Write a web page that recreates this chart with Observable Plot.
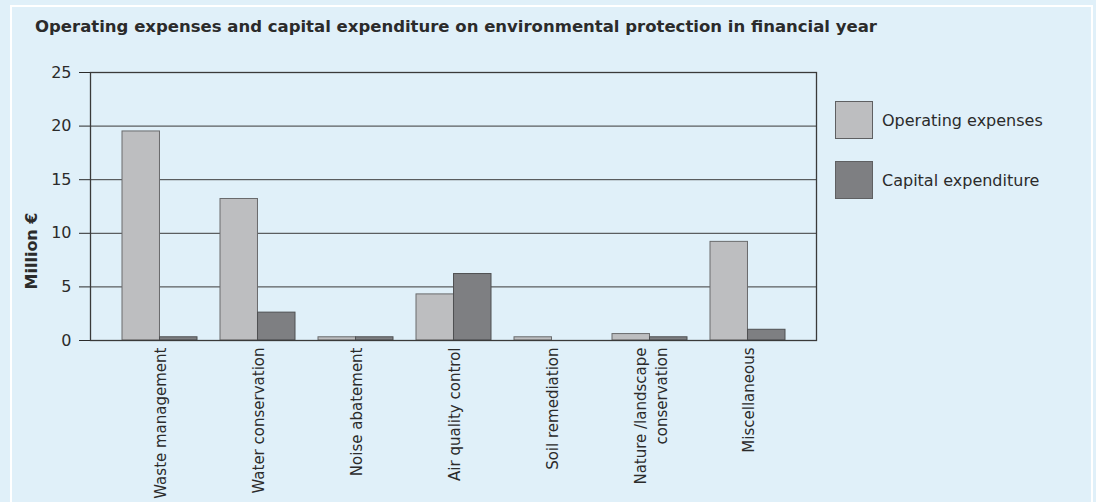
<!DOCTYPE html>
<html>
<head>
<meta charset="utf-8">
<script src="https://cdn.jsdelivr.net/npm/d3@7"></script>
<script src="https://cdn.jsdelivr.net/npm/@observablehq/plot@0.6"></script>
<style>
  html, body { margin: 0; padding: 0; }
  body { width: 1096px; height: 502px; background: #e0f0f9; position: relative; overflow: hidden; font-family: "DejaVu Sans", sans-serif; color: #2b2b2b; }
  #frame { position: absolute; left: 10px; top: 5px; width: 1079px; height: 600px; border: 2px solid #ffffff; }
  #title { position: absolute; left: 35px; top: 17px; font-size: 16.5px; font-weight: 700; white-space: nowrap; }
  #chart { position: absolute; left: 0; top: 0; }
  #ylabel { position: absolute; left: 31px; top: 251px; transform: translate(-50%, -50%) rotate(-90deg); font-size: 16px; font-weight: 700; white-space: nowrap; }
  .lg { position: absolute; left: 835px; display: flex; align-items: center; font-size: 16px; white-space: nowrap; }
  .sw { width: 36px; height: 36px; border: 1px solid #5f6062; margin-right: 9px; }
</style>
</head>
<body>
<div id="frame"></div>
<div id="title"></div>
<div id="chart"></div>
<div id="ylabel"></div>
<div id="legend"></div>
<script>
const titleText = "Operating expenses and capital expenditure on environmental protection in financial year";
const yLabel = "Million €";
const categories = ["Waste management", "Water conservation", "Noise abatement", "Air quality control", "Soil remediation", "Nature /landscape\nconservation", "Miscellaneous"];
const operating = [19.5, 13.2, 0.3, 4.3, 0.3, 0.6, 9.2];
const capital = [0.3, 2.6, 0.3, 6.2, 0, 0.3, 1.0];
const yTicks = [0, 5, 10, 15, 20, 25];
const seriesNames = ["Operating expenses", "Capital expenditure"];
const seriesColors = ["#bdbec0", "#7e7f82"];

document.getElementById("title").textContent = titleText;
document.getElementById("ylabel").textContent = yLabel;

const rows = categories.map((c, i) => ({category: c, operating: operating[i], capital: capital[i]}));

const W = 1096, H = 502;
const mL = 90, mR = 280, mT = 72, mB = 162;
const pIn = 0.237, pOut = 0.31;
const step = (W - mL - mR) / (categories.length - pIn + 2 * pOut);
const bw = step * (1 - pIn);
const half = bw / 2;

const chart = Plot.plot({
  width: W, height: H,
  marginLeft: mL, marginRight: mR, marginTop: mT, marginBottom: mB,
  style: {background: "transparent", fontSize: "16px", fontFamily: "DejaVu Sans, sans-serif", color: "#2b2b2b"},
  x: {domain: categories, paddingInner: pIn, paddingOuter: pOut},
  y: {domain: [0, 25]},
  marks: [
    Plot.ruleY(yTicks, {stroke: "#3a3a3a", strokeWidth: 1}),
    Plot.barY(rows, {x: "category", y: "operating", fill: seriesColors[0], stroke: "#6a6b6d", strokeWidth: 1, insetRight: half}),
    Plot.barY(rows.filter(d => d.capital > 0), {x: "category", y: "capital", fill: seriesColors[1], stroke: "#4f5052", strokeWidth: 1, insetLeft: half}),
    Plot.axisX({label: null, tickSize: 0, tickRotate: -90, tickPadding: 7, fontSize: 15, lineHeight: 1.35}),
    Plot.axisY({ticks: yTicks, tickSize: 11, tickPadding: 8, label: null, fontSize: 16}),
    Plot.frame({stroke: "#3a3a3a", strokeWidth: 1.3})
  ]
});
document.getElementById("chart").appendChild(chart);

const legend = document.getElementById("legend");
seriesNames.forEach((name, i) => {
  const item = document.createElement("div");
  item.className = "lg";
  item.style.top = (101 + i * 60) + "px";
  const sw = document.createElement("div");
  sw.className = "sw";
  sw.style.background = seriesColors[i];
  const t = document.createElement("span");
  t.textContent = name;
  item.appendChild(sw);
  item.appendChild(t);
  legend.appendChild(item);
});
</script>
</body>
</html>
